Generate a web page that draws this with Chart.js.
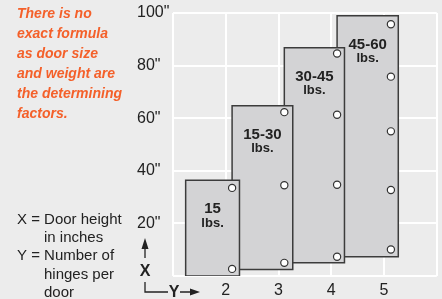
<!DOCTYPE html>
<html>
<head>
<meta charset="utf-8">
<script src="https://cdn.jsdelivr.net/npm/chart.js@4"></script>
<style>
  html, body { margin: 0; padding: 0; background: #ececec; }
  #wrap { width: 442px; height: 299px; }
</style>
</head>
<body>
<div id="wrap"><canvas id="hinge-chart"></canvas></div>
<script>
// door weight classes and the rectangles they cover (x = hinges, y = inches)
const doorWeights = ['15', '15-30', '30-45', '45-60'];
const doorLeft = [1.24, 2.12, 3.11, 4.11];
const doorRight = [2.26, 3.27, 4.25, 5.27];
const doorTop = [36.4, 64.7, 86.8, 99.0];
const doorBottom = [0, 2.5, 5.0, 7.3];

// hinge marks on each door
const hingeX = [2.12, 3.11, 4.11, 5.13];
const hingeY = [
    [33.5, 2.7],
    [62.3, 34.5, 5.0],
    [84.6, 61.3, 34.7, 7.3],
    [95.7, 75.8, 55.0, 32.7, 10.1]
];

const xTickLabels = [2, 3, 4, 5];
const noteLines = ['There is no', 'exact formula', 'as door size', 'and weight are', 'the determining', 'factors.'];
const keyLines = [
    ['X = Door height', 0],
    ['in inches', 1],
    ['Y = Number of', 0],
    ['hinges per', 1],
    ['door', 1]
];

const FONT = '"Liberation Sans", Arial, sans-serif';
const INK = '#222';

// door outlines, first one drawn on top
const doorSets = doorWeights.map((w, i) => ({
    label: w + ' lbs.',
    data: [
        {x: doorLeft[i], y: doorBottom[i]},
        {x: doorLeft[i], y: doorTop[i]},
        {x: doorRight[i], y: doorTop[i]},
        {x: doorRight[i], y: doorBottom[i]},
        {x: doorLeft[i], y: doorBottom[i]}
    ],
    borderColor: '#3c3c3c',
    borderWidth: 1.5,
    backgroundColor: '#d3d3d5',
    fill: 'shape',
    tension: 0,
    pointRadius: 0,
    borderJoinStyle: 'miter'
}));

const hingeSet = {
    label: 'hinges',
    data: hingeX.flatMap((x, i) => hingeY[i].map(y => ({x: x, y: y}))),
    showLine: false,
    pointRadius: 3.6,
    pointBackgroundColor: '#fff',
    pointBorderColor: '#333',
    pointBorderWidth: 1.2,
    order: -1
};

// text around the plot
const annotations = {
    id: 'annotations',
    afterDatasetsDraw(chart) {
        const {ctx, scales: {x, y}} = chart;
        ctx.save();
        ctx.fillStyle = INK;
        ctx.textAlign = 'center';
        ctx.textBaseline = 'middle';
        doorWeights.forEach((w, i) => {
            const cx = x.getPixelForValue((doorLeft[i] + doorRight[i]) / 2);
            const top = y.getPixelForValue(doorTop[i]);
            ctx.font = 'bold 15px ' + FONT;
            ctx.fillText(w, cx, top + 29);
            ctx.font = 'bold 13px ' + FONT;
            ctx.fillText('lbs.', cx, top + 43);
        });

        // orange note
        ctx.textAlign = 'left';
        ctx.fillStyle = '#f4602a';
        ctx.font = 'italic bold 14px ' + FONT;
        noteLines.forEach((t, i) => ctx.fillText(t, 17, 14 + i * 20));

        // key
        ctx.fillStyle = INK;
        ctx.font = '15px ' + FONT;
        keyLines.forEach((k, i) => ctx.fillText(k[0], k[1] ? 44 : 17, 219.5 + i * 18.3));

        // axis indicator
        ctx.strokeStyle = INK;
        ctx.lineWidth = 1.3;
        ctx.beginPath();
        ctx.moveTo(145, 258); ctx.lineTo(145, 246);
        ctx.moveTo(145, 282); ctx.lineTo(145, 292); ctx.lineTo(168, 292);
        ctx.moveTo(180, 292); ctx.lineTo(193, 292);
        ctx.stroke();
        ctx.beginPath();
        ctx.moveTo(145, 238); ctx.lineTo(141.5, 249); ctx.lineTo(148.5, 249); ctx.closePath();
        ctx.moveTo(200, 292); ctx.lineTo(190, 288.5); ctx.lineTo(190, 295.5); ctx.closePath();
        ctx.fill();
        ctx.textAlign = 'center';
        ctx.font = 'bold 16px ' + FONT;
        ctx.fillText('X', 145, 272);
        ctx.fillText('Y', 174, 293);
        ctx.restore();
    }
};

const hingeChart = new Chart(document.querySelector('#hinge-chart').getContext('2d'), {
    type: 'line',
    data: { datasets: [...doorSets, hingeSet] },
    options: {
        responsive: true,
        maintainAspectRatio: false,
        animation: false,
        layout: { padding: { left: 137, top: 13, right: 5, bottom: 0 } },
        plugins: {
            legend: { display: false },
            tooltip: { enabled: false }
        },
        scales: {
            x: {
                type: 'linear',
                min: 1,
                max: 6,
                afterFit: s => { s.height = 23; },
                grid: { color: '#fff', lineWidth: 2, drawTicks: false },
                border: { display: false },
                ticks: {
                    stepSize: 1,
                    padding: 5,
                    color: INK,
                    font: { family: FONT, size: 16 },
                    callback: v => xTickLabels.includes(v) ? String(v) : ''
                }
            },
            y: {
                min: 0,
                max: 100,
                afterFit: s => { s.width = 36; },
                grid: { color: '#fff', lineWidth: 2, drawTicks: false },
                border: { display: false },
                ticks: {
                    stepSize: 20,
                    crossAlign: 'far',
                    color: INK,
                    font: { family: FONT, size: 16 },
                    callback: v => v === 0 ? '' : v + '"'
                }
            }
        }
    },
    plugins: [annotations]
});
</script>
</body>
</html>
